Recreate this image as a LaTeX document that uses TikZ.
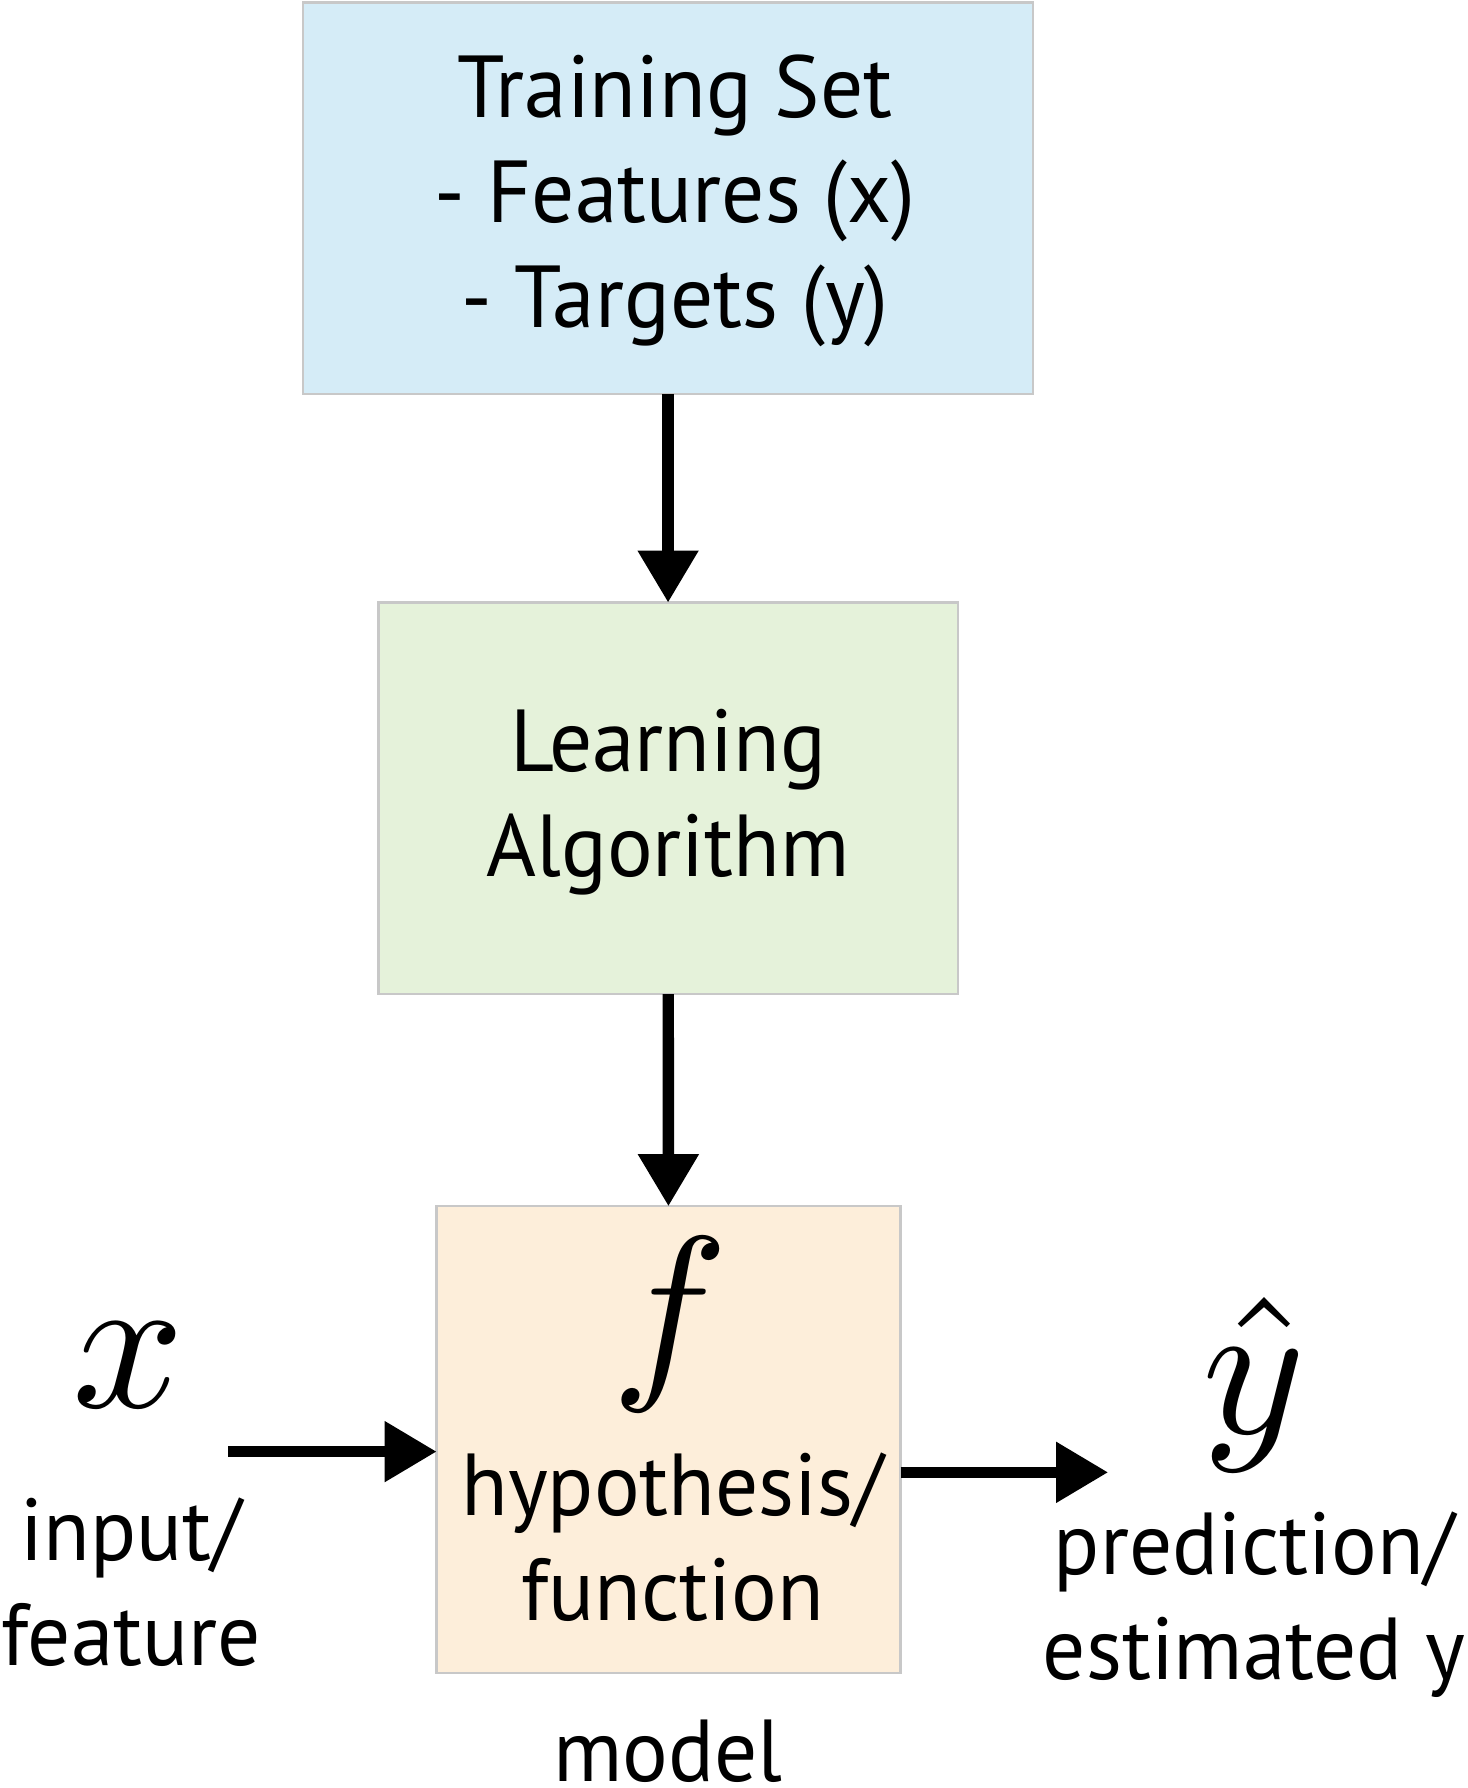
\documentclass[tikz,border=0pt]{standalone}
\usepackage{fontspec}
\setmainfont{PT Sans}[FakeStretch=0.97]
\usetikzlibrary{arrows.meta}

\definecolor{setblue}{RGB}{213,236,247}
\definecolor{algogreen}{RGB}{229,242,218}
\definecolor{hyporange}{RGB}{253,238,218}
\definecolor{boxgray}{RGB}{200,200,200}

\tikzset{
	box/.style={draw=boxgray, line width=1.2pt, inner sep=0pt, outer sep=0pt},
	flow/.style={line width=5.7pt, -{Triangle[width=29pt,length=26pt]}},
	lbl/.style={font=\fontsize{44}{52.5}\selectfont, align=center, inner sep=0pt},
	sym/.style={scale=9.8, inner sep=0pt}
}

\begin{document}
\begin{tikzpicture}[x=0.570pt, y=-0.576pt]
	\useasboundingbox (0,0) rectangle (1287,1552);

	\node[box, fill=setblue, minimum width=364.8pt, minimum height=195.8pt] at (586,172) (train) {};
	\node[lbl] at (592,174) (traintext) {Training Set\\- Features (x)\\- Targets (y)};

	\node[box, fill=algogreen, minimum width=289.6pt, minimum height=195.8pt] at (586,693) (learn) {};
	\node[lbl] at (586,696) (learntext) {Learning\\Algorithm};

	\node[box, fill=hyporange, minimum width=232pt, minimum height=233.3pt] at (586.5,1249.5) (hyp) {};
	\node[sym] at (588,1150) (f) {$f$};
	\node[lbl] at (590,1334) (hyptext) {hypothesis/\\function};
	\node[lbl, anchor=base] at (586,1546) (model) {model};

	\node[sym] at (113,1185) (x) {$x$};
	\node[lbl] at (115,1373) (input) {input/\\feature};

	\node[sym] at (1100,1202) (yhat) {$\hat{y}$};
	\node[lbl] at (1100,1393) (output) {prediction/\\estimated y};

	\coordinate (xin) at (200,1260);
	\coordinate (yout) at (972,1278);

	\draw[flow] (train) -- (learn);
	\draw[flow] (learn) -- (hyp);
	\draw[flow] (xin) -- (xin -| hyp.west);
	\draw[flow] (yout -| hyp.east) -- (yout);
\end{tikzpicture}
\end{document}
